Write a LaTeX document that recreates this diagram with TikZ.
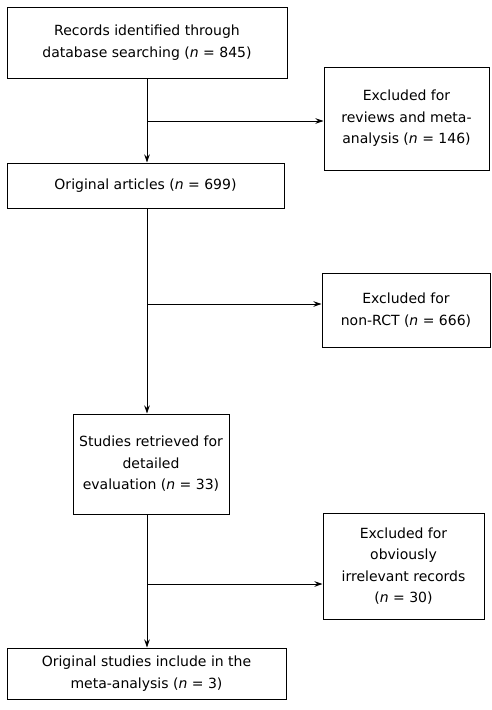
\documentclass[tikz,border=0pt]{standalone}
\usepackage{fontspec}
\setmainfont{DejaVu Sans}
\usetikzlibrary{arrows.meta}
\newcommand{\nn}{\textit{n}}

\begin{document}
\begin{tikzpicture}[x=1pt,y=-1pt,line width=1pt,>={Stealth[length=8pt,width=5.5pt]},
  box/.style={draw,align=center,inner sep=0pt,font=\fontsize{14}{21.5}\selectfont}]
  \useasboundingbox (0,0) rectangle (492,710);
  \node[box,minimum width=280,minimum height=71] (records) at (147,42.5)
    {Records identified through\\database searching (\nn{} = 845)};
  \node[box,minimum width=165,minimum height=103] (reviews) at (406.5,118.5)
    {Excluded for\\reviews and meta-\\analysis (\nn{} = 146)};
  \node[box,minimum width=277,minimum height=45] (articles) at (145.5,185.5)
    {Original articles (\nn{} = 699)};
  \node[box,minimum width=168,minimum height=74] (nonrct) at (406,310)
    {Excluded for\\non-RCT (\nn{} = 666)};
  \node[box,minimum width=156,minimum height=100] (retrieved) at (151,464)
    {Studies retrieved for\\detailed\\evaluation (\nn{} = 33)};
  \node[box,minimum width=161,minimum height=106] (irrelevant) at (403.5,566)
    {Excluded for\\obviously\\irrelevant records\\(\nn{} = 30)};
  \node[box,minimum width=279,minimum height=51] (included) at (146.5,673.5)
    {Original studies include in the\\meta-analysis (\nn{} = 3)};
  \coordinate (b1) at (147,121);
  \coordinate (b2) at (147,304);
  \coordinate (b3) at (147,584);
  \draw[->] (b1 |- records.south) -- (b1 |- articles.north);
  \draw[->] (b1) -- (b1 -| reviews.west);
  \draw[->] (b2 |- articles.south) -- (b2 |- retrieved.north);
  \draw[->] (b2) -- (b2 -| nonrct.west);
  \draw[->] (b3 |- retrieved.south) -- (b3 |- included.north);
  \draw[->] (b3) -- (b3 -| irrelevant.west);
\end{tikzpicture}
\end{document}
